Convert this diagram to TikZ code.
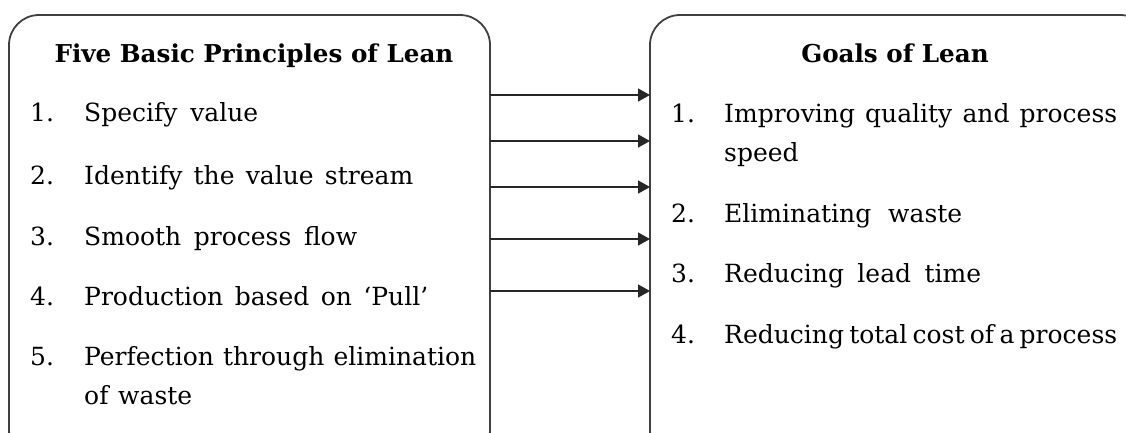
\documentclass[tikz,border=0pt]{standalone}
\usepackage{fontspec}
\setmainfont{DejaVu Serif}
\usetikzlibrary{arrows.meta}
\newcommand{\jline}[2]{\makebox[#1pt][s]{#2}}
\begin{document}
\begin{tikzpicture}[x=1pt,y=-1pt,
  box/.style={draw=black!75, line width=1.8pt, rounded corners=30pt},
  txt/.style={anchor=base west, inner sep=0pt, font=\fontsize{25}{30}\selectfont},
  ttl/.style={anchor=base, inner sep=0pt, font=\fontsize{24.6}{30}\selectfont\bfseries},
  conn/.style={draw=black!85, line width=1.5pt, -{Triangle[length=12pt,width=13pt]}}]
\useasboundingbox (0,0) rectangle (1126,432);
% boxes
\path[box] (9,15) rectangle (490,460);
\path[box] (650,15) rectangle (1150,460);
\coordinate (Lr) at (490,0);
\coordinate (Rl) at (650,0);
% left texts
\node[ttl] (lt) at (254,62) {Five Basic Principles of Lean};
\node[txt] (l1n) at (30,121) {1.};
\node[txt] (l1) at (84,121) {\jline{174}{Specify value}};
\node[txt] (l2n) at (30,184) {2.};
\node[txt] (l2) at (84,184) {\jline{329}{Identify the value stream}};
\node[txt] (l3n) at (30,245) {3.};
\node[txt] (l3) at (84,245) {\jline{273}{Smooth process flow}};
\node[txt] (l4n) at (30,305) {4.};
\node[txt] (l4) at (84,305) {\jline{344}{Production based on ‘Pull’}};
\node[txt] (l5n) at (30,365) {5.};
\node[txt] (l5) at (84,365) {\jline{392}{Perfection through elimination}};
\node[txt] (l5b) at (84,404) {\jline{108}{of waste}};
% right texts
\node[ttl] (rt) at (895,62) {Goals of Lean};
\node[txt] (r1n) at (671,122) {1.};
\node[txt] (r1) at (724,122) {\jline{393}{Improving quality and process}};
\node[txt] (r1b) at (724,161) {speed};
\node[txt] (r2n) at (671,222) {2.};
\node[txt] (r2) at (724,222) {\jline{238}{Eliminating waste}};
\node[txt] (r3n) at (671,282) {3.};
\node[txt] (r3) at (724,282) {\jline{257}{Reducing lead time}};
\node[txt] (r4n) at (671,343) {4.};
\node[txt] (r4) at (724,343) {\jline{393}{Reducing total cost of a process}};
% connectors
\foreach \y/\n in {95/a,141/b,187/c,239/d,291/e}{
  \coordinate (s\n) at (Lr |- 0,\y);
  \coordinate (t\n) at (Rl |- 0,\y);
  \draw[conn] (s\n) -- (t\n);
}
\end{tikzpicture}
\end{document}
